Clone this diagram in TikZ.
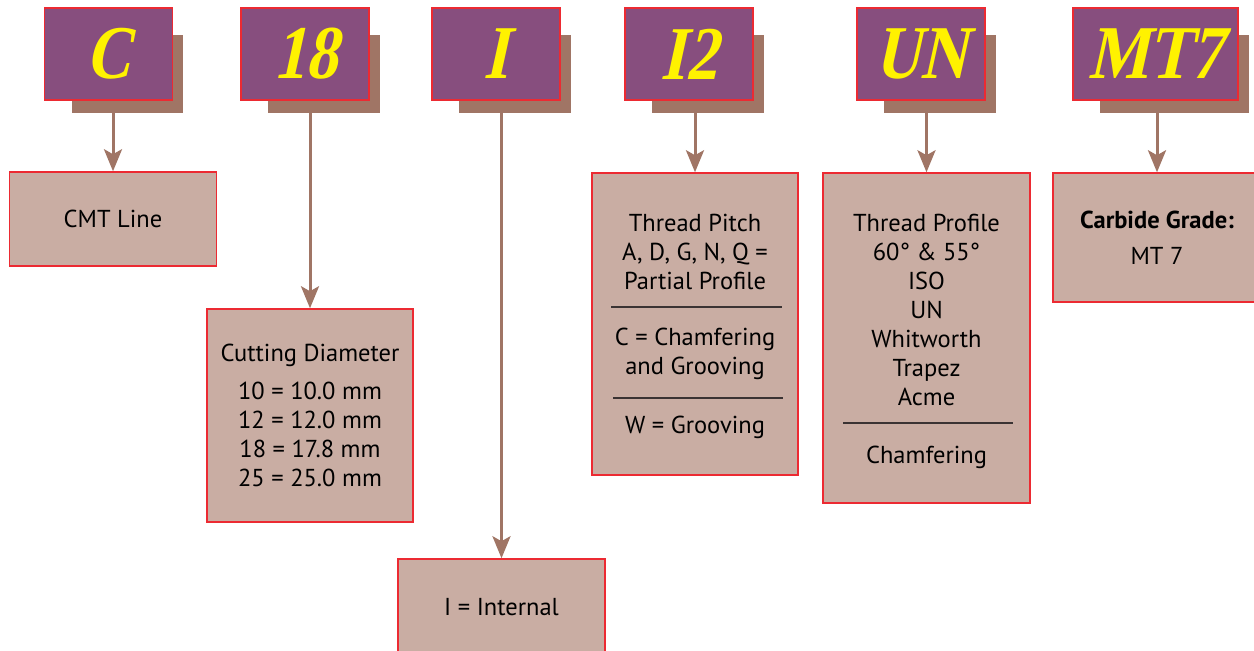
\documentclass[tikz,border=0pt]{standalone}
\usepackage{fontspec}
\setmainfont{PT Sans}
\newfontfamily\codefont[BoldFeatures={FakeSlant=0.22,FakeStretch=0.84}]{Liberation Serif}
\usetikzlibrary{arrows.meta,backgrounds}
\definecolor{plum}{HTML}{874E7E}
\definecolor{cocoa}{HTML}{A07565}
\definecolor{sand}{HTML}{C9ADA3}
\definecolor{edge}{HTML}{EC2A32}
\definecolor{lemon}{HTML}{FFF200}
\definecolor{rule}{HTML}{3A3333}

\begin{document}
\begin{tikzpicture}[x=1pt,y=-1pt,>={Stealth[length=22pt,width=18pt,inset=5pt]},
  code/.style={draw=edge,line width=1.5pt,fill=plum,text=lemon,minimum width=128pt,minimum height=92pt,
    font=\codefont\bfseries\fontsize{76}{76}\selectfont},
  info/.style={draw=edge,line width=1.5pt,fill=sand,minimum width=207pt,align=center,
    font=\fontsize{24.5}{29}\selectfont},
  txt/.style={align=center,inner sep=0pt,font=\fontsize{24.5}{29}\selectfont},
  sep/.style={rule,line width=1.5pt}]
\useasboundingbox (0,0) rectangle (1254,651);
% code letters
\node[code] (cC) at (108.5,54) {C};
\node[code] (c18) at (305,54) {18};
\node[code] (cI) at (496,54) {I};
\node[code] (cI2) at (689,54) {I2};
\node[code] (cUN) at (921,54) {UN};
\node[code,minimum width=165pt] (cMT) at (1155.5,54) {MT7};
% meanings
\node[info,minimum height=94pt] (dC) at (113,219) {CMT Line};
\node[info,minimum width=206pt,minimum height=213pt] (d18) at (310,415.5)
  {Cutting Diameter\\[9pt]10 = 10.0 mm\\12 = 12.0 mm\\18 = 17.8 mm\\25 = 25.0 mm};
\node[info,minimum height=96pt] (dI) at (501.5,607) {I = Internal};
\node[info,minimum width=206pt,minimum height=302pt] (dI2) at (695,324) {};
\node[txt] (pitch) at (695,251.5) {Thread Pitch\\A, D, G, N, Q =\\Partial Profile};
\draw[sep] (611,307) -- (782,307);
\node[txt] (chamf) at (695,354) {C = Chamfering\\and Grooving};
\draw[sep] (613,398) -- (783,398);
\node[txt] (groove) at (695,427) {W = Grooving};
\node[info,minimum height=330pt] (dUN) at (926.5,338) {};
\node[txt] (profile) at (926.5,309.5) {Thread Profile\\60° \& 55°\\ISO\\UN\\Whitworth\\Trapez\\Acme};
\draw[sep] (843,423) -- (1013,423);
\node[txt] (chamfer) at (926.5,457) {Chamfering};
\node[info,minimum width=208pt,minimum height=129pt] (dMT) at (1157,237.5)
  {{\bfseries Carbide Grade:}\\[7pt]MT 7};
% arrows and shadows behind
\begin{scope}[on background layer]
\foreach \c/\d in {cC/dC,c18/d18,cI/dI,cI2/dI2,cUN/dUN,cMT/dMT}
  \draw[->,cocoa,line width=3pt] (\d.north |- \c.south) -- (\d.north);
\foreach \c in {cC,c18,cI,cI2,cUN,cMT}
  \fill[cocoa] ([shift={(28,28)}]\c.north west) rectangle ([shift={(10,12)}]\c.south east);
\end{scope}
\end{tikzpicture}
\end{document}
